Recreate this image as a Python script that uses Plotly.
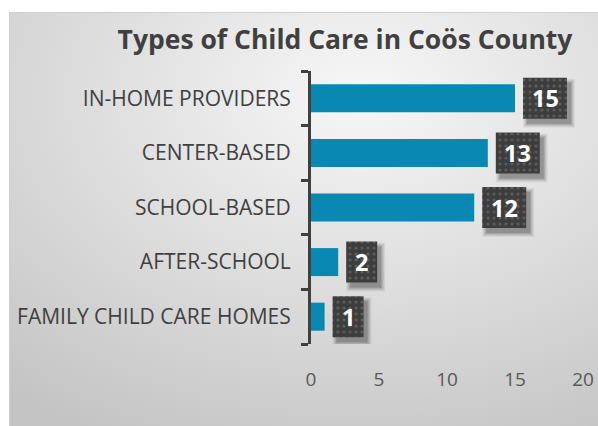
import base64
import plotly.graph_objects as go

# Child care counts by type (bottom to top on the chart)
categories = ["FAMILY CHILD CARE HOMES", "AFTER-SCHOOL", "SCHOOL-BASED",
              "CENTER-BASED", "IN-HOME PROVIDERS"]
counts = [1, 2, 12, 13, 15]
x_ticks = [0, 5, 10, 15, 20]

W, H = 598, 426
M_L, M_R, M_T, M_B = 311, 15, 71, 82
PW, PH = W - M_L - M_R, H - M_T - M_B

BAR_COLOR = "#0888b2"
TEXT_GRAY = "#404040"
FONT = "Open Sans"

# label boxes sit just past each bar end
px_per_unit = PW / 20.0
gap = 8 / px_per_unit
box_w = [(18 + 13 * len(str(v))) / px_per_unit for v in counts]
box_base = [v + gap for v in counts]
box_h = 41 / (PH / 5.0)
bar_h = 28 / (PH / 5.0)

fig = go.Figure()

fig.add_trace(go.Bar(
    y=categories, x=counts, orientation="h",
    width=bar_h, marker=dict(color=BAR_COLOR, line=dict(width=0)),
    hoverinfo="skip",
))

# soft drop shadow behind the value boxes
dy = 5 / (PH / 5.0)
dx = 4 / px_per_unit
for grow, alpha in [(4, 0.05), (3, 0.06), (2, 0.08), (1, 0.10), (0, 0.12)]:
    g = grow / px_per_unit
    gy = grow / (PH / 5.0)
    fig.add_trace(go.Bar(
        y=categories, x=[w + 2 * g for w in box_w],
        base=[b + dx - g for b in box_base], orientation="h",
        width=box_h + 2 * gy, offset=-box_h / 2 - gy - dy,
        marker=dict(color=f"rgba(0,0,0,{alpha})", line=dict(width=0)),
        hoverinfo="skip",
    ))

fig.add_trace(go.Bar(
    y=categories, x=box_w, base=box_base, orientation="h",
    width=box_h, offset=-box_h / 2,
    marker=dict(
        color="#3d3d3d", line=dict(width=0),
        pattern=dict(shape=".", fillmode="replace", bgcolor="#3d3d3d",
                     fgcolor="#5c5c5c", size=6, solidity=0.22),
    ),
    hoverinfo="skip",
))

# value labels centred in the boxes
for cat, v, b, w in zip(categories, counts, box_base, box_w):
    fig.add_annotation(
        x=b + w / 2, y=cat, xref="x", yref="y", text=f"<b>{v}</b>",
        showarrow=False, xanchor="center", yanchor="middle",
        font=dict(family=FONT, size=23.5, color="white"),
    )

# gradient panel behind the whole chart
svg = f"""<svg xmlns='http://www.w3.org/2000/svg' width='589' height='414' viewBox='0 0 589 414' preserveAspectRatio='none'>
<defs><radialGradient id='g' cx='0.6' cy='0.2' r='0.95'>
<stop offset='0' stop-color='#f7f7f7'/><stop offset='1' stop-color='#c3c3c3'/>
</radialGradient></defs>
<rect x='0' y='0' width='589' height='414' fill='url(#g)'/>
<path d='M0.5 414 L0.5 0.5 L589 0.5' fill='none' stroke='#cfcfcf' stroke-width='1'/>
</svg>"""
src = "data:image/svg+xml;base64," + base64.b64encode(svg.encode()).decode()
fig.add_layout_image(
    source=src, xref="paper", yref="paper",
    x=(9 - M_L) / PW, y=(H - M_B - 12) / PH,
    sizex=(W - 9) / PW, sizey=(H - 12) / PH,
    xanchor="left", yanchor="top", sizing="stretch", layer="below",
)

fig.update_layout(
    width=W, height=H,
    margin=dict(l=M_L, r=M_R, t=M_T, b=M_B, pad=0, autoexpand=False),
    paper_bgcolor="white", plot_bgcolor="rgba(0,0,0,0)",
    barmode="overlay", showlegend=False,
    font=dict(family=FONT, color=TEXT_GRAY),
    title=dict(
        text="<b>Types of Child Care in Coös County</b>",
        x=345 / W, xanchor="center", xref="container",
        y=1 - 40 / H, yanchor="middle", yref="container",
        font=dict(family=FONT, size=26.5, color=TEXT_GRAY),
    ),
    xaxis=dict(
        range=[0, 20], tickvals=x_ticks, showgrid=False, zeroline=False,
        showline=False, ticks="", tickfont=dict(size=19, color="#595959"),
        ticklabelstandoff=22, fixedrange=True, automargin=False,
    ),
    yaxis=dict(
        categoryorder="array", categoryarray=categories,
        range=[-0.5, 4.5], showgrid=False, zeroline=False,
        showline=True, linewidth=3, linecolor=TEXT_GRAY,
        ticks="outside", ticklen=7, tickwidth=3, tickcolor=TEXT_GRAY,
        tickson="boundaries", tickfont=dict(size=21, color=TEXT_GRAY),
        ticklabelstandoff=13, fixedrange=True, automargin=False,
    ),
)

fig.write_html("out.html")
